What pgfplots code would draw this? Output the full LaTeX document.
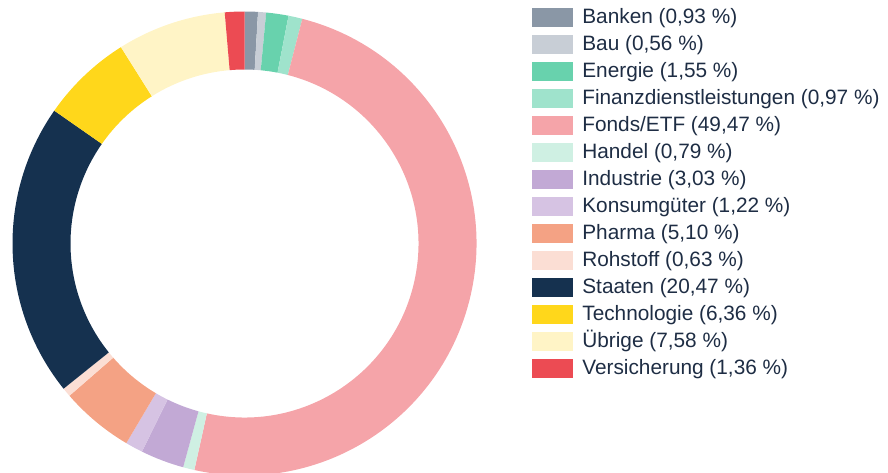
\documentclass[border=0pt]{standalone}
\usepackage{pgfplots}
\pgfplotsset{compat=1.18}
\usepackage{pgfplotstable}
\usepackage{fontspec}
\setmainfont{Liberation Sans}
\definecolor{cBanken}{HTML}{8A97A6}
\definecolor{cBau}{HTML}{C8CED6}
\definecolor{cEnergie}{HTML}{68D2AD}
\definecolor{cFinanz}{HTML}{9FE3CC}
\definecolor{cFonds}{HTML}{F5A4A9}
\definecolor{cHandel}{HTML}{CFF0E3}
\definecolor{cIndustrie}{HTML}{C2A9D5}
\definecolor{cKonsum}{HTML}{D6C3E3}
\definecolor{cPharma}{HTML}{F4A284}
\definecolor{cRohstoff}{HTML}{FBDED4}
\definecolor{cStaaten}{HTML}{15314F}
\definecolor{cTech}{HTML}{FFD71B}
\definecolor{cUebrige}{HTML}{FFF4C6}
\definecolor{cVers}{HTML}{EC4B53}
\definecolor{txt}{HTML}{1E2D44}
\pgfplotstableread[col sep=comma]{
name,value,color
Banken,0.93,cBanken
Bau,0.56,cBau
Energie,1.55,cEnergie
Finanz,0.97,cFinanz
Fonds,49.47,cFonds
Handel,0.79,cHandel
Industrie,3.03,cIndustrie
Konsum,1.22,cKonsum
Pharma,5.10,cPharma
Rohstoff,0.63,cRohstoff
Staaten,20.47,cStaaten
Technologie,6.36,cTech
Uebrige,7.58,cUebrige
Versicherung,1.36,cVers
}\sectors
\begin{document}
\begin{tikzpicture}
\begin{axis}[
  x=0.75pt, y=0.75pt,
  xmin=0, xmax=888, ymin=0, ymax=472,
  hide axis, clip=false,
  anchor=origin, at={(0,0)},
  legend cell align=left,
  legend image code/.code={\fill[#1, draw=none] (0pt,-7.125pt) rectangle (30.75pt,7.125pt);},
  legend style={
    at={(axis description cs:0.5991,0.9831)}, anchor=north west,
    draw=none, fill=none, inner sep=0pt, outer sep=0pt,
    font=\fontsize{15.6}{18}\selectfont, text=txt,
    nodes={inner sep=0pt, text height=11.5pt, text depth=3.5pt},
    row sep=5.25pt, column sep=7pt,
  },
]
\pgfplotstablegetrowsof{\sectors}
\pgfmathtruncatemacro\N{\pgfplotsretval-1}
\def\curangle{90}
\pgfplotsforeachungrouped \i in {0,...,\N}{%
  \pgfplotstablegetelem{\i}{value}\of\sectors \let\v\pgfplotsretval
  \pgfplotstablegetelem{\i}{color}\of\sectors \let\c\pgfplotsretval
  \pgfmathsetmacro\endangle{\curangle - 3.59928*\v}%
  \edef\temp{\noexpand\fill[\c] (axis cs:244.5,228.5) ++(\curangle:174pt)
     arc[start angle=\curangle, end angle=\endangle, radius=174pt]
     -- ++(\endangle:-43.5pt)
     arc[start angle=\endangle, end angle=\curangle, radius=130.5pt] -- cycle;}%
  \temp
  \global\let\curangle\endangle
}
\addlegendimage{fill=cBanken}\addlegendentry{Banken (0,93 \%)}
\addlegendimage{fill=cBau}\addlegendentry{Bau (0,56 \%)}
\addlegendimage{fill=cEnergie}\addlegendentry{Energie (1,55 \%)}
\addlegendimage{fill=cFinanz}\addlegendentry{Finanzdienstleistungen (0,97 \%)}
\addlegendimage{fill=cFonds}\addlegendentry{Fonds/ETF (49,47 \%)}
\addlegendimage{fill=cHandel}\addlegendentry{Handel (0,79 \%)}
\addlegendimage{fill=cIndustrie}\addlegendentry{Industrie (3,03 \%)}
\addlegendimage{fill=cKonsum}\addlegendentry{Konsumgüter (1,22 \%)}
\addlegendimage{fill=cPharma}\addlegendentry{Pharma (5,10 \%)}
\addlegendimage{fill=cRohstoff}\addlegendentry{Rohstoff (0,63 \%)}
\addlegendimage{fill=cStaaten}\addlegendentry{Staaten (20,47 \%)}
\addlegendimage{fill=cTech}\addlegendentry{Technologie (6,36 \%)}
\addlegendimage{fill=cUebrige}\addlegendentry{Übrige (7,58 \%)}
\addlegendimage{fill=cVers}\addlegendentry{Versicherung (1,36 \%)}
\end{axis}
\pgfresetboundingbox
\useasboundingbox (0,0) rectangle (666pt,354pt);
\end{tikzpicture}
\end{document}
